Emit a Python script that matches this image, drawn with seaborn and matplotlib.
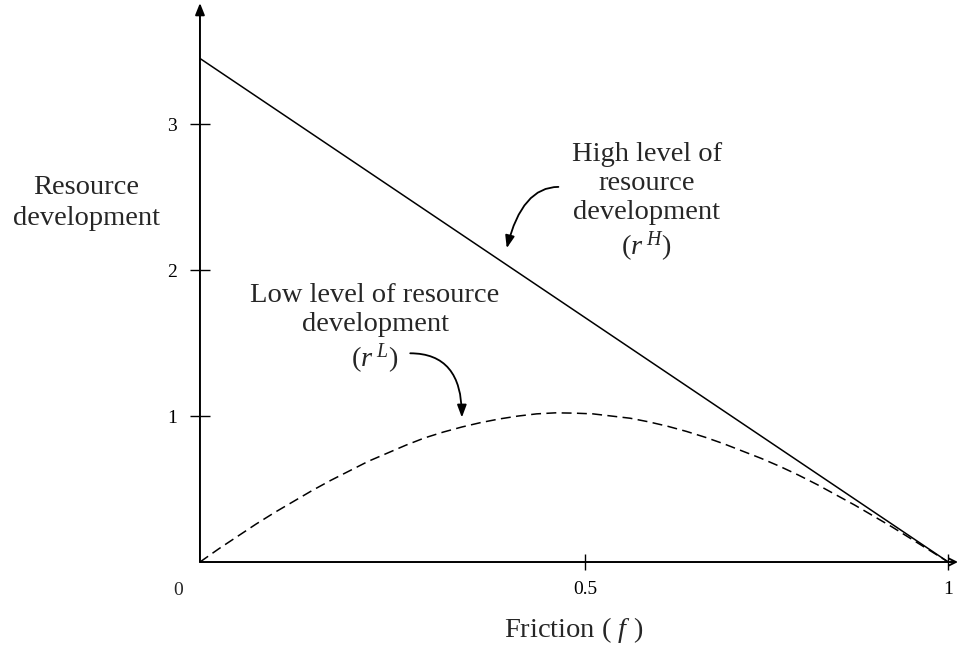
import numpy as np
import pandas as pd
import seaborn as sns
from matplotlib import pyplot as plt

# values
high_f = [0.0, 1.0]
r_high = [3.45, 0.0]

low_f = [0.0, 0.025, 0.05, 0.075, 0.10, 0.125, 0.15, 0.175, 0.20, 0.225,
         0.25, 0.275, 0.30, 0.325, 0.35, 0.375, 0.40, 0.425, 0.45, 0.475,
         0.50, 0.525, 0.55, 0.575, 0.60, 0.625, 0.65, 0.675, 0.70, 0.725,
         0.75, 0.775, 0.80, 0.825, 0.85, 0.875, 0.90, 0.925, 0.95, 0.975, 1.0]
r_low = [0.0, 0.09, 0.175, 0.26, 0.34, 0.415, 0.49, 0.56, 0.625, 0.69,
         0.745, 0.80, 0.85, 0.89, 0.925, 0.955, 0.98, 1.0, 1.015, 1.022,
         1.02, 1.015, 1.0, 0.985, 0.96, 0.93, 0.895, 0.855, 0.81, 0.76,
         0.71, 0.655, 0.595, 0.53, 0.46, 0.39, 0.315, 0.24, 0.16, 0.08, 0.0]

x_ticks = [0.515, 1.0]
x_tick_labels = ['0.5', '1']
y_ticks = [1, 2, 3]
y_tick_labels = ['1', '2', '3']

df_high = pd.DataFrame({'f': high_f, 'r': r_high})
df_low = pd.DataFrame({'f': low_f, 'r': r_low})

sns.set_style('white')
plt.rcParams['font.family'] = ['Liberation Serif', 'DejaVu Serif']
plt.rcParams['mathtext.fontset'] = 'custom'
plt.rcParams['mathtext.rm'] = 'Liberation Serif'
plt.rcParams['mathtext.it'] = 'Liberation Serif:italic'

fig = plt.figure(figsize=(9.6, 6.51), dpi=100)
ax = fig.add_axes([0.2083, 0.1367, 0.7896, 0.8587])

sns.lineplot(data=df_high, x='f', y='r', color='black', linewidth=1.1, ax=ax)
sns.lineplot(data=df_low, x='f', y='r', color='black', linewidth=1.1,
             linestyle=(0, (6.5, 3.5)), ax=ax)

ax.set_xlim(0, 1.013)
ax.set_ylim(0, 3.83)

# axes drawn as arrows
for s in ax.spines.values():
    s.set_visible(False)
ax.annotate('', xy=(0, 1), xytext=(0, 0), xycoords='axes fraction',
            arrowprops=dict(arrowstyle='-|>,head_length=0.7,head_width=0.28',
                            color='black', lw=1.4, shrinkA=0, shrinkB=0))
ax.annotate('', xy=(1, 0), xytext=(0, 0), xycoords='axes fraction',
            arrowprops=dict(arrowstyle='->,head_length=0.5,head_width=0.25',
                            color='black', lw=1.4, shrinkA=0, shrinkB=0))

ax.set_xticks(x_ticks)
ax.set_xticklabels(x_tick_labels)
ax.set_yticks(y_ticks)
ax.set_yticklabels(y_tick_labels)
ax.tick_params(axis='x', direction='inout', length=12, width=1, pad=8,
               labelsize=14, bottom=True, colors='black')
ax.tick_params(axis='y', direction='inout', length=15, width=1, pad=9,
               labelsize=14, left=True, colors='black')
ax.annotate('0', xy=(0, 0), xytext=(-22, -28), textcoords='offset pixels',
            ha='center', va='center', fontsize=14)

ax.set_xlabel('Friction ( $f$ )', fontsize=20.5)
ax.xaxis.set_label_coords(0.493, -0.122)
ax.xaxis.label.set_va('center')
ax.set_ylabel('Resource\ndevelopment', fontsize=20.5, rotation=0,
              linespacing=1.35)
ax.yaxis.set_label_coords(-0.150, 0.642)
ax.yaxis.label.set_va('center')
ax.yaxis.label.set_ha('center')

ax.text(0.597, 2.46, 'High level of\nresource\ndevelopment\n($r^{\\;H}$)',
        ha='center', va='center', fontsize=20.5, linespacing=1.2)
ax.text(0.234, 1.59, 'Low level of resource\ndevelopment\n($r^{\\;L}$)',
        ha='center', va='center', fontsize=20.5, linespacing=1.2)

arrow = dict(arrowstyle='-|>,head_length=0.75,head_width=0.28', color='black',
             lw=1.3, shrinkA=0, shrinkB=0)
ax.annotate('', xy=(0.410, 2.15), xytext=(0.479, 2.57),
            arrowprops=dict(arrow, connectionstyle='angle3,angleA=0,angleB=76'))
ax.annotate('', xy=(0.350, 0.99), xytext=(0.281, 1.43),
            arrowprops=dict(arrow, connectionstyle='angle3,angleA=0,angleB=90'))

fig.savefig('out.png', dpi=100)
